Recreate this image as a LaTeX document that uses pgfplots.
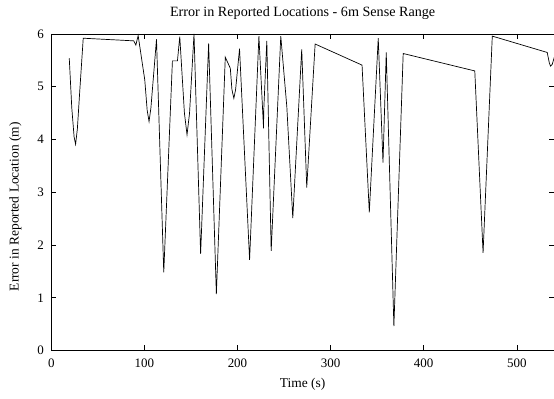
\documentclass[border=0pt]{standalone}
\usepackage{fontspec}
\setmainfont{Liberation Serif}
\usepackage{pgfplots}
\pgfplotsset{compat=1.18}
\begin{document}
\fontsize{13}{15}\selectfont
\begin{tikzpicture}[x=1bp,y=1bp]
\begin{axis}[
  scale only axis,
  width=502.7bp, height=316.5bp,
  xmin=0, xmax=540, ymin=0, ymax=6,
  xtick={0,100,200,300,400,500},
  ytick={0,1,2,3,4,5,6},
  tick align=inside,
  major tick length=5bp,
  tick style={black, line width=0.5pt},
  axis line style={line width=0.8pt},
  /pgf/number format/assume math mode=true,
  ticklabel style={font=\fontsize{13}{15}\selectfont},
  yticklabel style={xshift=-3bp},
  xticklabel style={yshift=-4bp},
  title={Error in Reported Locations - 6m Sense Range},
  title style={font=\fontsize{14.2}{16}\selectfont, at={(axis description cs:0.5,1)}, anchor=base, yshift=11.3bp},
  xlabel={Time (s)},
  ylabel={Error in Reported Location (m)},
  xlabel style={font=\fontsize{13.5}{15}\selectfont, at={(axis description cs:0.5,0)}, anchor=base, yshift=-37bp},
  ylabel style={font=\fontsize{13.5}{15}\selectfont, at={(axis description cs:0,0.454)}, anchor=center, yshift=36bp},
  clip=true,
]
\addplot[black, line width=0.7pt, mark=none] coordinates {
(19.3,5.54)
(22,4.6)
(24.5,4.05)
(26.1,3.91)
(28,4.2)
(30.5,4.9)
(34.3,5.92)
(88.6,5.87)
(90.8,5.79)
(93.3,5.97)
(100.4,5.13)
(103,4.55)
(105,4.34)
(107,4.6)
(113,5.9)
(120.8,1.48)
(130.1,5.49)
(135.5,5.49)
(138,5.95)
(143,4.5)
(145.8,4.09)
(148.5,4.5)
(153.3,6.0)
(160.4,1.83)
(169,5.82)
(177.3,1.07)
(186.9,5.56)
(192.3,5.35)
(194,4.95)
(196.1,4.78)
(198,4.95)
(202.2,5.72)
(213,1.72)
(223,5.96)
(228,4.21)
(228.2,4.55)
(231.5,5.87)
(236.2,1.89)
(246.5,5.96)
(253,4.62)
(259.4,2.51)
(269,5.71)
(274.4,3.09)
(283.4,5.81)
(333.8,5.41)
(341.6,2.62)
(351.2,5.92)
(356.3,3.56)
(359.8,5.65)
(368,0.46)
(378,5.63)
(454.9,5.30)
(463.8,1.85)
(473.7,5.96)
(532.7,5.65)
(535,5.45)
(536.3,5.39)
(538,5.42)
(541,5.6)
};
\end{axis}
\pgfresetboundingbox
\path ([shift={(-51.3bp,-48.5bp)}]current axis.south west) rectangle ([shift={(0bp,34bp)}]current axis.north east);
\end{tikzpicture}
\end{document}
